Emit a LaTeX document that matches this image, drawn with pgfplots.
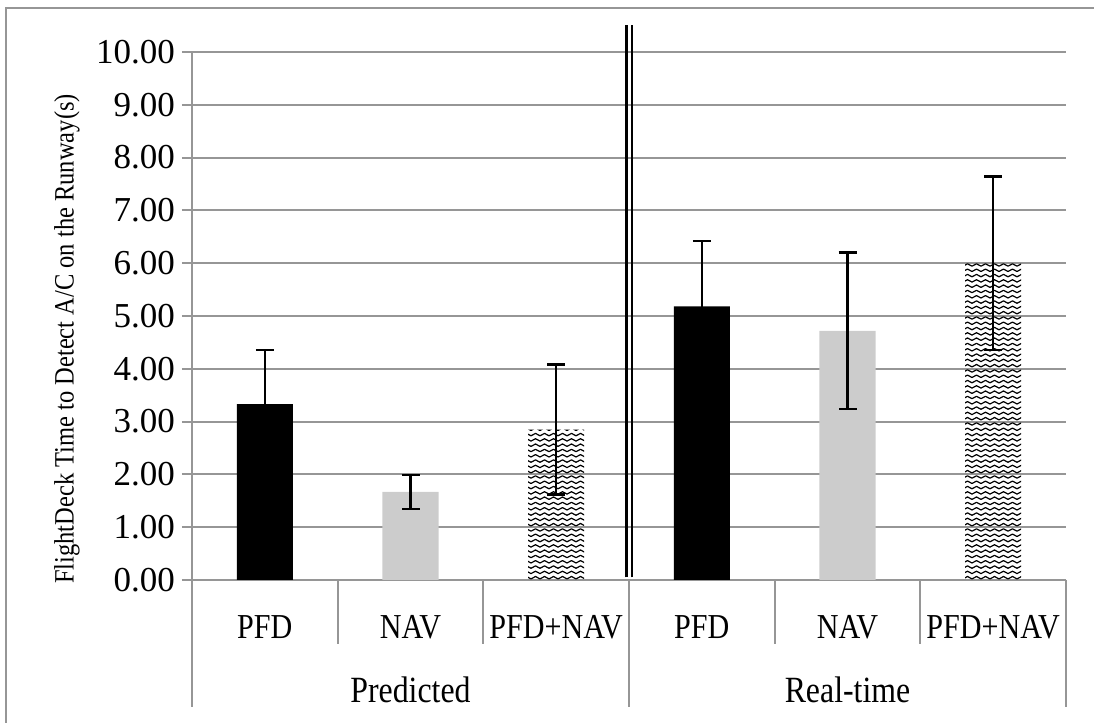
\documentclass[border=0pt]{standalone}
\usepackage{fontspec}
\setmainfont{Liberation Serif}
\newfontfamily\ylabfont[FakeStretch=0.875]{Liberation Serif}
\newfontfamily\condfont[FakeStretch=0.86]{Liberation Serif}
\usepackage{pgfplots}
\pgfplotsset{compat=1.18}
\usetikzlibrary{patterns}
\definecolor{gridgray}{RGB}{150,150,150}
\definecolor{bargray}{RGB}{204,204,204}

% zigzag fill of the PFD+NAV bars
\pgfdeclarepatternformonly{zigzag}{\pgfqpoint{-0.5pt}{-0.5pt}}{\pgfqpoint{5pt}{3.2pt}}{\pgfqpoint{4.5pt}{2.65pt}}{
  \pgfsetlinewidth{0.6pt}
  \pgfsetroundjoin
  \pgfpathmoveto{\pgfqpoint{0pt}{0.5pt}}
  \pgfpathlineto{\pgfqpoint{2.25pt}{1.7pt}}
  \pgfpathlineto{\pgfqpoint{4.5pt}{0.5pt}}
  \pgfusepath{stroke}
}

\begin{document}
\begin{tikzpicture}
\useasboundingbox (0,0) rectangle (547pt,361.5pt);
\draw[gridgray, line width=1pt] (3pt,0) -- (3pt,357.5pt) -- (547pt,357.5pt);

\begin{axis}[
  at={(96pt,71.5pt)}, anchor=south west,
  width=437pt, height=264pt, scale only axis,
  xmin=-0.5, xmax=5.5, ymin=0, ymax=10,
  ybar, bar width=0.385,
  axis lines*=left,
  axis line style={gridgray, line width=1pt},
  xtick={0,...,5},
  xticklabels={PFD,NAV,PFD+NAV,PFD,NAV,PFD+NAV},
  x tick style={draw=none},
  xticklabel style={font=\condfont\fontsize{17.5}{17.5}\selectfont, anchor=base, yshift=-24.5pt},
  ytick={0,1,...,10},
  y tick style={gridgray, line width=1pt},
  tick align=outside, major tick length=5pt,
  yticklabel style={font=\fontsize{17.5}{17.5}\selectfont,
    /pgf/number format/.cd, fixed, fixed zerofill, precision=2},
  /pgf/number format/assume math mode=true,
  ymajorgrids, grid style={gridgray, line width=1pt},
  clip=false,
  error bars/error bar style={black, line width=1.2pt},
  error bars/error mark options={black, line width=1.2pt, mark size=4.5pt, rotate=90},
]
\addplot[fill=black, draw=none, bar shift=0pt,
  error bars/.cd, y dir=both, y explicit]
  coordinates {(0,3.33) +- (0,1.03) (3,5.18) +- (0,1.24)};
\addplot[fill=bargray, draw=none, bar shift=0pt,
  error bars/.cd, y dir=both, y explicit]
  coordinates {(1,1.67) +- (0,0.32) (4,4.72) +- (0,1.48)};
\addplot[fill=white, pattern=zigzag, draw=none, bar shift=0pt,
  error bars/.cd, y dir=both, y explicit]
  coordinates {(2,2.85) +- (0,1.23) (5,6.0) +- (0,1.64)};

% double divider between the two groups
\draw[black, line width=1.1pt] ([xshift=-1.3pt]axis cs:2.5,0.05) -- ([xshift=-1.3pt]axis cs:2.5,10.52);
\draw[black, line width=1.1pt] ([xshift=1.3pt]axis cs:2.5,0.05) -- ([xshift=1.3pt]axis cs:2.5,10.52);

% category separators below the axis
\pgfplotsinvokeforeach{0.5,1.5,3.5,4.5}{
  \draw[gridgray, line width=1pt] (axis cs:#1,0) -- ([yshift=-32pt]axis cs:#1,0);}
\pgfplotsinvokeforeach{-0.5,2.5,5.5}{
  \draw[gridgray, line width=1pt] (axis cs:#1,0) -- ([yshift=-63.5pt]axis cs:#1,0);}

\node[font=\condfont\fontsize{18.5}{18.5}\selectfont] at ([yshift=-55pt]axis cs:1,0) {Predicted};
\node[font=\condfont\fontsize{18.5}{18.5}\selectfont] at ([yshift=-55pt]axis cs:4,0) {Real-time};
\end{axis}

\node[rotate=90, font=\ylabfont\fontsize{14}{14}\selectfont] at (33.5pt,192pt)
  {FlightDeck Time to Detect A/C on the Runway(s)};
\end{tikzpicture}
\end{document}
